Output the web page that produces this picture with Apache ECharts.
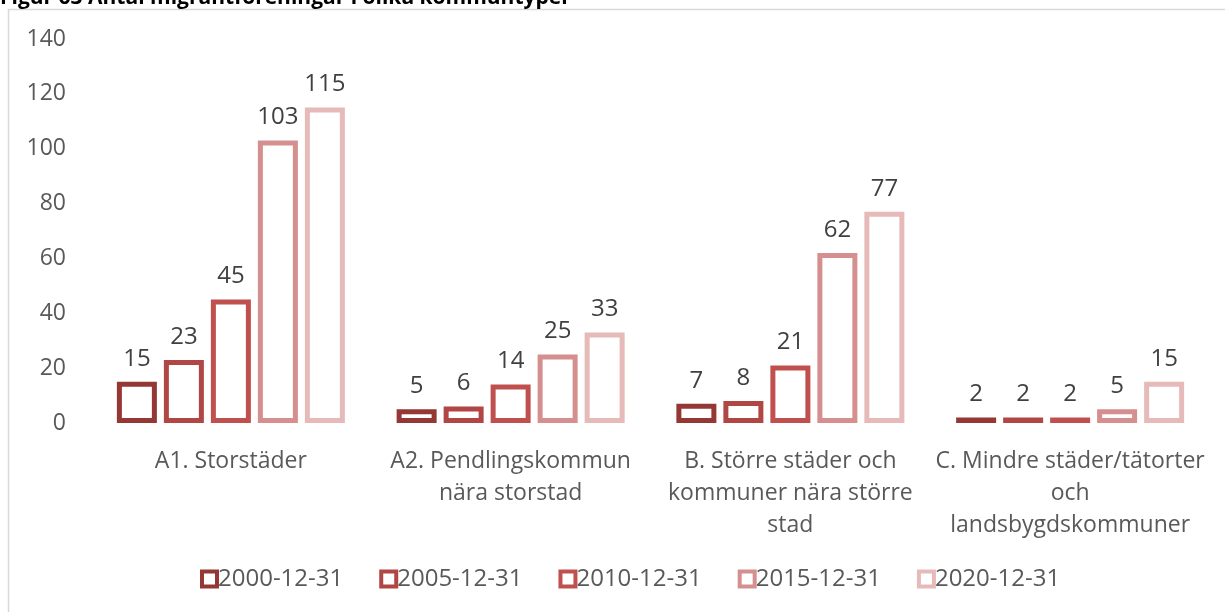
<!DOCTYPE html>
<html>
<head>
<meta charset="utf-8">
<script src="https://cdn.jsdelivr.net/npm/echarts@6/dist/echarts.min.js"></script>
<style>
  html, body { margin: 0; padding: 0; background: #ffffff; }
  #chart { width: 1225px; height: 612px; }
</style>
</head>
<body>
<div id="chart"></div>
<script>
// Kommuntyper (x-axis categories)
const categories = [
  'A1. Storstäder',
  'A2. Pendlingskommun\nnära storstad',
  'B. Större städer och\nkommuner nära större\nstad',
  'C. Mindre städer/tätorter\noch\nlandsbygdskommuner'
];

// Antal föreningar per datum
const seriesNames = ['2000-12-31', '2005-12-31', '2010-12-31', '2015-12-31', '2020-12-31'];
const values2000 = [15, 5, 7, 2];
const values2005 = [23, 6, 8, 2];
const values2010 = [45, 14, 21, 2];
const values2015 = [103, 25, 62, 5];
const values2020 = [115, 33, 77, 15];

const yTicks = [0, 20, 40, 60, 80, 100, 120, 140];

const seriesValues = [values2000, values2005, values2010, values2015, values2020];
const colors = ['#953735', '#B04745', '#C0504D', '#D48F8E', '#E6BAB9'];

const font = '"Open Sans", "Liberation Sans", sans-serif';

const chart = echarts.init(document.getElementById('chart'), null, { renderer: 'canvas' });

chart.setOption({
  animation: false,
  backgroundColor: '#ffffff',
  graphic: [
    {
      type: 'rect',
      shape: { x: 8.5, y: 9.5, width: 1400, height: 800 },
      style: { fill: 'none', stroke: '#d9d9d9', lineWidth: 1.5 },
      z: -1
    },
    {
      type: 'text',
      left: 0,
      top: -12,
      style: {
        text: 'Figur 63 Antal migrantföreningar i olika kommuntyper',
        font: 'bold 21px ' + font,
        fill: '#000000'
      }
    }
  ],
  grid: { left: 91, right: 15, top: 39, bottom: 189, containLabel: false },
  legend: {
    bottom: 16,
    left: 195,
    itemWidth: 15,
    itemHeight: 15,
    itemGap: 36,
    icon: 'rect',
    itemStyle: { borderWidth: 4 },
    textStyle: { fontFamily: font, fontSize: 24, color: '#595959', padding: [0, 0, 0, -4] },
    data: seriesNames
  },
  xAxis: {
    type: 'category',
    data: categories,
    axisLine: { show: false },
    axisTick: { show: false },
    axisLabel: {
      interval: 0,
      margin: 22,
      fontFamily: font,
      fontSize: 23,
      lineHeight: 32,
      color: '#595959'
    }
  },
  yAxis: {
    type: 'value',
    min: yTicks[0],
    max: yTicks[yTicks.length - 1],
    interval: 20,
    splitLine: { show: false },
    axisLine: { show: false },
    axisTick: { show: false },
    axisLabel: {
      margin: 25,
      fontFamily: font,
      fontSize: 23,
      color: '#595959'
    }
  },
  series: seriesNames.map((name, i) => ({
    name: name,
    type: 'bar',
    data: seriesValues[i],
    barWidth: 40,
    barGap: '17.5%',
    itemStyle: {
      color: '#ffffff',
      borderColor: colors[i],
      borderWidth: 5
    },
    label: {
      show: true,
      position: 'top',
      distance: 11,
      fontFamily: font,
      fontSize: 24,
      color: '#404040'
    }
  }))
});
</script>
</body>
</html>
